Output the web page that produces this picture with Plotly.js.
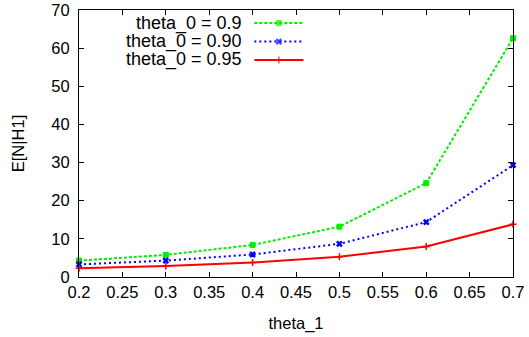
<!DOCTYPE html>
<html><head><meta charset="utf-8">
<script src="https://cdn.plot.ly/plotly-3.0.1.min.js"></script>
<style>html,body{margin:0;padding:0;background:#fff}#c{width:529px;height:337px}</style>
</head><body><div id="c"></div>
<script>
var theta1 = [0.2, 0.3, 0.4, 0.5, 0.6, 0.7];
var seriesNames = ["theta_0 = 0.9", "theta_0 = 0.90", "theta_0 = 0.95"];
var valsA = [4.3, 5.8, 8.4, 13.2, 24.6, 62.6];
var valsB = [3.3, 4.3, 5.9, 8.7, 14.4, 29.3];
var valsC = [2.3, 2.9, 3.8, 5.3, 8.0, 13.8];
var xTicks = [0.2, 0.25, 0.3, 0.35, 0.4, 0.45, 0.5, 0.55, 0.6, 0.65, 0.7];
var yTicks = [0, 10, 20, 30, 40, 50, 60, 70];

var FONT = "Liberation Sans, Arial, sans-serif";
var FS = 16.5;
var styles = [
  {color: "#00ee00", dash: "3px,2px", symbol: "square", size: 5, lw: 1},
  {color: "#0000ff", dash: "2px,3px", symbol: "x-thin-open", size: 5, lw: 2.5},
  {color: "#ff0000", dash: "solid", symbol: "cross-thin-open", size: 5, lw: 1.5}
];
var vals = [valsA, valsB, valsC];
var traces = [];
vals.forEach(function(v, i) {
  var s = styles[i];
  traces.push({
    x: theta1, y: v, type: "scatter", mode: "lines+markers", name: seriesNames[i],
    line: {color: s.color, dash: s.dash, width: 2},
    marker: {color: s.color, symbol: s.symbol, size: s.size, line: {color: s.color, width: s.lw}},
    showlegend: false, cliponaxis: false
  });
});
// custom legend (text left of key sample, gnuplot style)
var keyY = [0.951, 0.882, 0.813];
var annotations = [];
vals.forEach(function(v, i) {
  var s = styles[i];
  traces.push({
    x: [0.404, 0.4605, 0.517], y: [keyY[i], keyY[i], keyY[i]], xaxis: "x2", yaxis: "y2",
    type: "scatter", mode: "lines+markers", showlegend: false, hoverinfo: "skip",
    line: {color: s.color, dash: s.dash, width: 2},
    marker: {color: s.color, symbol: s.symbol, size: [0, s.size, 0], line: {color: s.color, width: s.lw}}
  });
  annotations.push({
    xref: "paper", yref: "paper", x: 0.38, y: keyY[i], xanchor: "right", yanchor: "middle",
    text: seriesNames[i], showarrow: false, font: {family: FONT, size: 18, color: "#000"}
  });
});

var layout = {
  width: 529, height: 337,
  margin: {l: 79, r: 16, t: 10, b: 60},
  paper_bgcolor: "#fff", plot_bgcolor: "#fff",
  showlegend: false,
  font: {family: FONT, size: FS, color: "#000"},
  xaxis: {
    range: [0.2, 0.7], tickvals: xTicks, ticktext: xTicks.map(String),
    ticks: "inside", ticklen: 5, tickwidth: 1, tickcolor: "#000",
    showline: true, linecolor: "#000", linewidth: 1, mirror: "ticks",
    showgrid: false, zeroline: false,
    title: {text: "theta_1", font: {family: FONT, size: FS}, standoff: 17}
  },
  yaxis: {
    range: [0, 70], tickvals: yTicks, ticktext: yTicks.map(String),
    ticks: "inside", ticklen: 5, tickwidth: 1, tickcolor: "#000",
    showline: true, linecolor: "#000", linewidth: 1, mirror: "ticks",
    showgrid: false, zeroline: false, ticklabelstandoff: 5,
    title: {text: "E[N|H1]", font: {family: FONT, size: FS}, standoff: 22}
  },
  xaxis2: {overlaying: "x", range: [0, 1], visible: false, fixedrange: true},
  yaxis2: {overlaying: "y", range: [0, 1], visible: false, fixedrange: true},
  annotations: annotations
};
Plotly.newPlot("c", traces, layout, {displayModeBar: false, staticPlot: true});
</script>
</body></html>
